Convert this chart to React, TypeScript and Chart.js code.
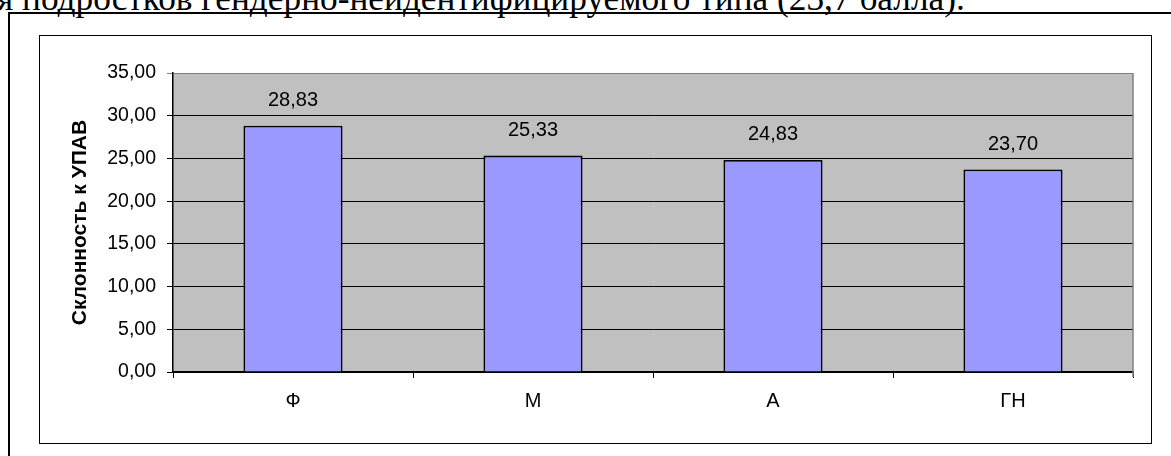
import React, { useEffect, useRef } from "react";
import { Chart, registerables } from "chart.js";

Chart.register(...registerables);

const headerText = "я подростков гендерно-неидентифицируемого типа (23,7 балла).";
const categories = ["Ф", "М", "А", "ГН"];
const values = [28.83, 25.33, 24.83, 23.7];
const yMin = 0;
const yMax = 35;
const yStep = 5;
const yTitle = "Склонность к УПАВ";

const fmt = (v: number) => v.toFixed(2).replace(".", ",");

const plotBg = {
  id: "plotBg",
  beforeDraw(chart: any) {
    const { ctx, chartArea } = chart;
    ctx.save();
    ctx.fillStyle = "#C0C0C0";
    ctx.fillRect(chartArea.left, chartArea.top, chartArea.right - chartArea.left, chartArea.bottom - chartArea.top);
    ctx.restore();
  },
  afterDraw(chart: any) {
    const { ctx, chartArea } = chart;
    ctx.save();
    ctx.strokeStyle = "#808080";
    ctx.lineWidth = 1.5;
    ctx.beginPath();
    ctx.moveTo(chartArea.right, chartArea.top);
    ctx.lineTo(chartArea.right, chartArea.bottom + 5);
    ctx.stroke();
    ctx.restore();
  },
};

const valueLabels = {
  id: "valueLabels",
  afterDatasetsDraw(chart: any) {
    const { ctx } = chart;
    const meta = chart.getDatasetMeta(0);
    ctx.save();
    ctx.fillStyle = "#000";
    ctx.font = "20px 'Liberation Sans', Arial, sans-serif";
    ctx.textAlign = "center";
    ctx.textBaseline = "middle";
    meta.data.forEach((el: any, i: number) => {
      ctx.fillText(fmt(values[i]), el.x, el.y - 25);
    });
    ctx.restore();
  },
};

function BarChart() {
  const ref = useRef<HTMLCanvasElement | null>(null);
  useEffect(() => {
    if (!ref.current) return;
    const chart = new Chart(ref.current, {
      type: "bar",
      data: {
        labels: categories,
        datasets: [
          {
            data: values,
            backgroundColor: "#9999FF",
            borderColor: "#000",
            borderWidth: 1.8,
            barPercentage: 0.413,
            categoryPercentage: 1,
          },
        ],
      },
      options: {
        animation: false,
        responsive: false,
        maintainAspectRatio: false,
        layout: { padding: { left: 0, right: 17, top: 37, bottom: 0 } },
        plugins: {
          legend: { display: false },
          tooltip: { enabled: false },
          title: { display: false },
        },
        scales: {
          x: {
            offset: true,
            grid: {
              offset: true,
              drawOnChartArea: false,
              drawTicks: true,
              tickLength: 6,
              color: "#000",
              lineWidth: 1,
            },
            border: { display: true, color: "#000", width: 1.5 },
            ticks: {
              color: "#000",
              padding: 11,
              font: { family: "'Liberation Sans', Arial, sans-serif", size: 20 },
            },
            afterFit(scale: any) {
              scale.height = 70;
            },
          },
          y: {
            min: yMin,
            max: yMax,
            grid: {
              color: (c: any) => (c.tick && c.tick.value === yMax ? "#808080" : "#000"),
              lineWidth: 1,
              drawTicks: true,
              tickLength: 6,
            },
            border: { display: true, color: "#000", width: 1.5 },
            ticks: {
              stepSize: yStep,
              color: "#000",
              padding: 11,
              font: { family: "'Liberation Sans', Arial, sans-serif", size: 19.5 },
              callback: (v: any) => fmt(Number(v)),
            },
            title: {
              display: true,
              text: yTitle,
              color: "#000",
              padding: { top: 28, bottom: 0 },
              font: { family: "'Liberation Sans', Arial, sans-serif", size: 21, weight: "bold" },
            },
            afterFit(scale: any) {
              scale.width = 133;
            },
          },
        },
      },
      plugins: [plotBg, valueLabels],
    });
    return () => chart.destroy();
  }, []);
  return <canvas ref={ref} width={1110} height={406} style={{ width: 1110, height: 406, display: "block" }} />;
}

export default function App() {
  return (
    <div
      style={{
        position: "absolute",
        left: 0,
        top: 0,
        width: 1171,
        height: 456,
        overflow: "hidden",
        background: "#fff",
      }}
    >
      <div
        style={{
          position: "absolute",
          left: -3,
          top: -19,
          whiteSpace: "nowrap",
          fontFamily: "'Liberation Serif', 'Times New Roman', serif",
          fontSize: 35.3,
          lineHeight: "35px",
          color: "#000",
        }}
      >
        {headerText}
      </div>
      <div
        style={{
          position: "absolute",
          left: 8,
          top: 12,
          width: 1300,
          height: 600,
          border: "2px solid #000",
        }}
      />
      <div
        style={{
          position: "absolute",
          left: 39,
          top: 35,
          width: 1113,
          height: 409,
          boxSizing: "border-box",
          border: "1px solid #000",
          background: "#fff",
        }}
      />
      <div style={{ position: "absolute", left: 40, top: 36 }}>
        <BarChart />
      </div>
    </div>
  );
}
